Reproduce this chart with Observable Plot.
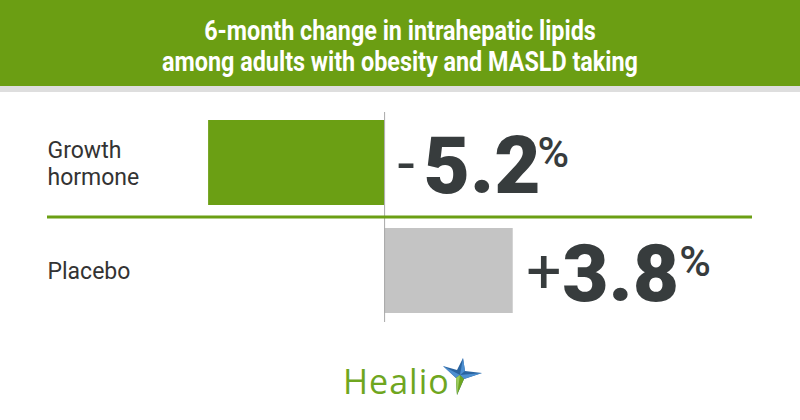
<!DOCTYPE html>
<html>
<head>
<meta charset="utf-8">
<script src="https://cdn.jsdelivr.net/npm/d3@7"></script>
<script src="https://cdn.jsdelivr.net/npm/@observablehq/plot@0.6"></script>
<style>
  html, body { margin: 0; padding: 0; background: #fff; }
  #wrap { position: relative; width: 800px; height: 420px; overflow: hidden; background: #fff; }
  #header { height: 86px; background: #6b9e13; color: #fff; text-align: center;
    font-family: "Roboto", sans-serif; font-weight: bold;
    font-size: 27px; line-height: 31px; padding-top: 16px; box-sizing: border-box; }
  #header div { transform: scaleX(0.865); transform-origin: 50% 50%; white-space: nowrap; }
  #strip { height: 6px; background: #dedede; }
  #chart svg { display: block; }
  #logo { position: absolute; left: 343px; top: 360px; height: 42px; width: 140px; }
  #logo .word { position: absolute; left: 0; top: 0; font-family: "Open Sans", sans-serif;
    font-size: 34px; font-weight: 500; color: #6fa61f; line-height: 42px; letter-spacing: 1px; }
</style>
</head>
<body>
<div id="wrap">
  <div id="header"><div>6-month change in intrahepatic lipids</div><div>among adults with obesity and MASLD taking</div></div>
  <div id="strip"></div>
  <div id="chart"></div>
  <div id="logo">
    <span class="word">Healio</span>
    <svg width="42" height="40" viewBox="0 0 42 40" style="position:absolute;left:99px;top:-2px">
      <polygon points="1,8 15,12 21,0 23,13 40,15 22,21 15,37 14,20" fill="#2a64a0"/>
      <polygon points="18,17 1,8 14,20" fill="#4d8fd0"/>
      <polygon points="18,17 21,0 23,13" fill="#4d8fd0"/>
      <polygon points="18,17 40,15 22,21" fill="#4d8fd0"/>
      <polygon points="18,17 22,21 15,37 14,20" fill="#6fa61f"/>
      <polygon points="18,17 15,37 14,20" fill="#9ccb5c"/>
    </svg>
  </div>
</div>
<script>
const categories = ["Growth hormone", "Placebo"];
const values = [-5.2, 3.8];

const GREEN = "#6b9f14";
const GRAY = "#c4c4c4";
const DARK = "#373c3d";

const rows = categories.map((c, i) => ({category: c, value: values[i]}));
const anchorX = d => Math.max(0, d.value);
const neg = d => d.value < 0;
const pos = d => d.value >= 0;
const num = d => Math.abs(d.value).toFixed(1);
const sign = d => d.value < 0 ? "-" : "+";

const chart = Plot.plot({
  width: 800,
  height: 268,
  marginLeft: 47,
  marginRight: 48,
  marginTop: 20,
  marginBottom: 38,
  x: {domain: [-9.96, 10.87], axis: null},
  y: {domain: categories, range: [16.5, 232.5], paddingInner: 0.213, paddingOuter: 0.1065, axis: null},
  color: {domain: categories, range: [GREEN, GRAY]},
  style: {fontFamily: "Roboto, sans-serif", background: "white"},
  marks: [
    Plot.barX(rows, {x: "value", y: "category", fill: "category"}),
    Plot.ruleX([0], {stroke: "#a8a8a8", strokeWidth: 1}),
    Plot.ruleY([categories[0]], {y: d => d, dy: 54, stroke: GREEN, strokeWidth: 3}),
    Plot.text(rows, {y: "category", text: "category", frameAnchor: "left", textAnchor: "start",
      lineWidth: 5, lineHeight: 1.14, fontSize: 23, fill: "#333"}),
    Plot.text(rows, {x: anchorX, y: "category", text: sign, textAnchor: "start", lineAnchor: "bottom",
      dx: 13, dy: 21, fontSize: 62, fontWeight: 400, fill: DARK}),
    Plot.text(rows, {filter: neg, x: anchorX, y: "category", text: num, textAnchor: "start", lineAnchor: "bottom",
      dx: 39, dy: 30, fontSize: 80, fontWeight: 900, fill: DARK}),
    Plot.text(rows, {filter: pos, x: anchorX, y: "category", text: num, textAnchor: "start", lineAnchor: "bottom",
      dx: 49, dy: 30, fontSize: 80, fontWeight: 900, fill: DARK}),
    Plot.text(rows, {filter: neg, x: anchorX, y: "category", text: () => "%", textAnchor: "start", lineAnchor: "bottom",
      dx: 153, dy: 3.5, fontSize: 43, fontWeight: 500, fill: DARK}),
    Plot.text(rows, {filter: pos, x: anchorX, y: "category", text: () => "%", textAnchor: "start", lineAnchor: "bottom",
      dx: 166, dy: 4.5, fontSize: 43, fontWeight: 500, fill: DARK})
  ]
});
document.getElementById("chart").appendChild(chart);
</script>
</body>
</html>
